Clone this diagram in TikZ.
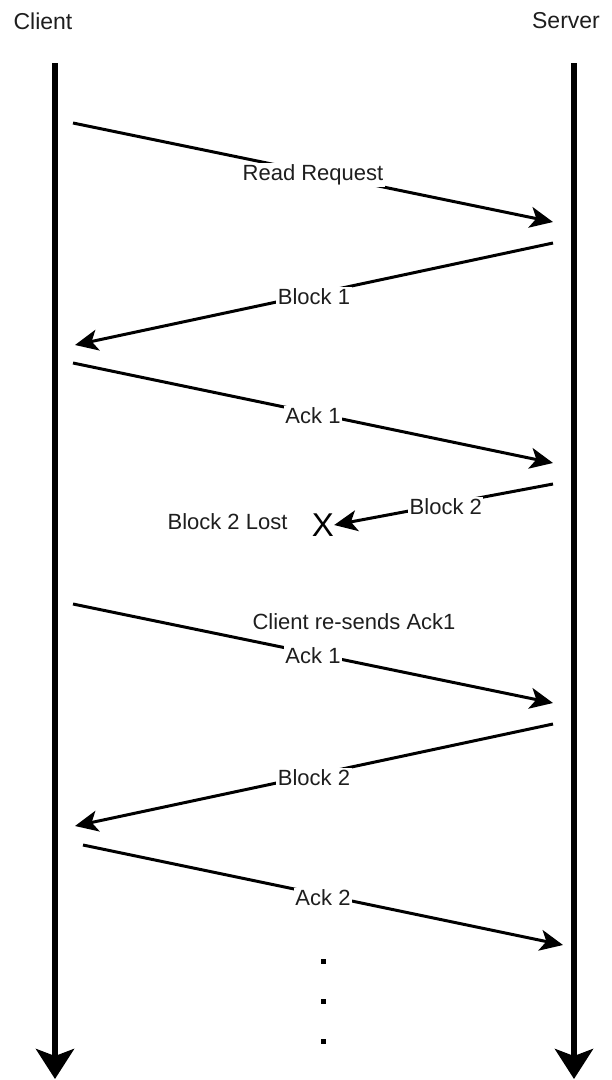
\documentclass[tikz,border=0pt]{standalone}
\usepackage{fontspec}
\setmainfont{Liberation Sans}
\usetikzlibrary{arrows.meta}
\definecolor{txt}{HTML}{1E1E1E}
\tikzset{
  life/.style={line width=5.5pt,-{Stealth[length=30pt,width=38pt,inset=7pt]}},
  msg/.style={line width=3pt,-{Stealth[length=23pt,width=21pt,inset=6pt]}},
  lbl/.style={fill=white,inner sep=1.5pt,yshift=-2.5pt,text=txt,font=\fontsize{22}{24}\selectfont},
  plain/.style={text=txt,font=\fontsize{22}{24}\selectfont,inner sep=0pt},
  head/.style={text=txt,font=\fontsize{23}{26}\selectfont,inner sep=0pt},
  dotbox/.style={fill=black,minimum size=5pt,inner sep=0pt}
}
\begin{document}
\begin{tikzpicture}[x=1pt,y=-1pt]
\useasboundingbox (0,0) rectangle (612,1080);
% headers
\node[head] (client) at (43,21) {Client};
\node[head] (server) at (566,21) {Server};
% lifelines
\coordinate (ctop) at (55,63);
\coordinate (cbot) at (55,1079);
\coordinate (stop) at (574,63);
\coordinate (sbot) at (574,1079);
\draw[life] (ctop) -- (cbot);
\draw[life] (stop) -- (sbot);
% message end points
\coordinate (a1) at (73,123);  \coordinate (b1) at (553,222);
\coordinate (a2) at (553,243); \coordinate (b2) at (75,345);
\coordinate (a3) at (73,363);  \coordinate (b3) at (553,463);
\coordinate (a4) at (553,484);
\coordinate (a5) at (73,604);  \coordinate (b5) at (553,703);
\coordinate (a6) at (553,724); \coordinate (b6) at (75,826);
\coordinate (a7) at (83,845);  \coordinate (b7) at (563,945);
% lost marker
\node[text=black,font=\fontsize{33}{36}\selectfont,inner sep=0pt] (x) at (323,525) {X};
\node[plain] (lost) at (227.5,522) {Block 2 Lost};
\node[plain] (resend) at (354,622) {Client re-sends Ack1};
% messages
\draw[msg] (a1) -- node[lbl]{Read Request} (b1);
\draw[msg] (a2) -- node[lbl]{Block 1} (b2);
\draw[msg] (a3) -- node[lbl]{Ack 1} (b3);
\draw[msg] (a4) -- node[lbl,pos=0.49]{Block 2} (x.east);
\draw[msg] (a5) -- node[lbl]{Ack 1} (b5);
\draw[msg] (a6) -- node[lbl]{Block 2} (b6);
\draw[msg] (a7) -- node[lbl]{Ack 2} (b7);
% continuation dots
\node[dotbox] (d1) at (323,961) {};
\node[dotbox] (d2) at (323,1001) {};
\node[dotbox] (d3) at (323,1041) {};
\end{tikzpicture}
\end{document}
